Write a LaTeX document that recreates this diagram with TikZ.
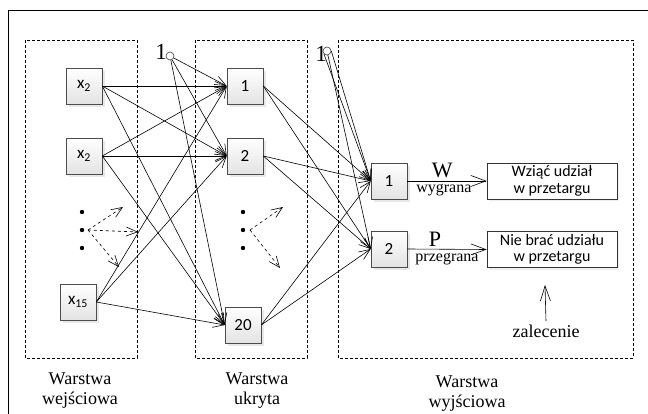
\documentclass[tikz,border=0pt]{standalone}
\usepackage{fontspec}
\setmainfont{Liberation Serif}
\setsansfont{Carlito}
\usetikzlibrary{arrows.meta,shadows}

\tikzset{
  neuron/.style={draw=gray!60!black, top color=white, bottom color=gray!22,
    minimum width=36pt, minimum height=36pt, inner sep=0pt,
    font=\sffamily\fontsize{17}{17}\selectfont,
    drop shadow={shadow xshift=3pt, shadow yshift=-3pt, fill=gray!35}},
  decision/.style={draw=gray!40!black, fill=white, minimum width=130pt,
    minimum height=36pt, inner sep=0pt, align=center,
    font=\sffamily\fontsize{16}{16.5}\selectfont,
    drop shadow={shadow xshift=2pt, shadow yshift=-2pt, fill=gray!25}},
  bias/.style={circle, draw=gray!50!black, fill=white, minimum size=8pt, inner sep=0pt},
  layer/.style={draw, dash pattern=on 3pt off 2pt, line width=0.7pt},
  layername/.style={anchor=north, align=center, inner sep=0pt,
    font=\fontsize{18}{20}\selectfont},
}

\begin{document}
\begin{tikzpicture}[x=1pt, y=-1pt, line width=0.6pt,
    >={Straight Barb[length=11pt,width=9pt]}]
  \useasboundingbox (0,0) rectangle (648,414);
  \draw[line width=0.8pt] (8,414) -- (8,10) -- (648,10);

  \draw[layer] (25,40) rectangle (137,358);
  \draw[layer] (195,40) rectangle (307,358);
  \draw[layer] (338,40) rectangle (633,358);

  \node[neuron] (X1) at (84,86) {x\textsubscript{2}};
  \node[neuron] (X2) at (84,156) {x\textsubscript{2}};
  \node[neuron] (X15) at (78,302) {x\textsubscript{15}};

  \node[neuron] (H1) at (245,86) {1};
  \node[neuron] (H2) at (245,156) {2};
  \node[neuron] (H20) at (243,325) {20};

  \node[neuron] (O1) at (389,181) {1};
  \node[neuron] (O2) at (389,249) {2};

  \node[decision] (D1) at (552,181) {Wziąć udział\\w przetargu};
  \node[decision] (D2) at (552,249.5) {Nie brać udziału\\w przetargu};

  \node[font=\fontsize{23}{23}\selectfont, inner sep=0pt] (B1t) at (161,52) {1};
  \node[bias] (B1) at (170,56) {};
  \node[font=\fontsize{23}{23}\selectfont, inner sep=0pt] (B2t) at (321,54) {1};
  \node[bias] (B2) at (327,51) {};

  \fill (82,212) circle (2.2pt) (82,230) circle (2.2pt) (82,248) circle (2.2pt);
  \fill (243,212) circle (2.2pt) (243,230) circle (2.2pt) (243,248) circle (2.2pt);

  \coordinate (XD) at (88,230);
  \coordinate (XD1) at (123,207);
  \coordinate (XD2) at (138,232);
  \coordinate (XD3) at (119,267);
  \coordinate (HD) at (250,230);
  \coordinate (HD1) at (283,207);
  \coordinate (HD2) at (280,268);
  \draw[->, dashed] (XD) -- (XD1);
  \draw[->, dashed] (XD) -- (XD2);
  \draw[->, dashed] (XD) -- (XD3);
  \draw[->, dashed] (HD) -- (HD1);
  \draw[->, dashed] (HD) -- (HD2);

  \draw[->] (X1.east) -- (H1.west);
  \draw[->] (X1.east) -- (H2.west);
  \draw[->] (X1.east) -- (H20.west);
  \draw[->] (X2.east) -- (H1.west);
  \draw[->] (X2.east) -- (H2.west);
  \draw[->] (X2.east) -- (H20.west);
  \draw[->] (X15.east) -- (H1.west);
  \draw[->] (X15.east) -- (H2.west);
  \draw[->] (X15.east) -- (H20.west);
  \draw[->] (B1) -- (H1.west);
  \draw[->] (B1) -- (H2.west);
  \draw[->] (B1) -- (H20.west);

  \draw[->] (H1.east) -- (O1.west);
  \draw[->] (H1.east) -- (O2.west);
  \draw[->] (H2.east) -- (O1.west);
  \draw[->] (H2.east) -- (O2.west);
  \draw[->] (H20.east) -- (O1.west);
  \draw[->] (H20.east) -- (O2.west);
  \draw[->] (B2.south west) -- (O1.west);
  \draw[->] (B2.east) -- (O1.west);
  \draw[->] (B2) -- (O2.west);

  \draw[-{Straight Barb[length=15pt,width=11pt]}] (O1.east) -- (D1.west)
    node[pos=0.44, above, font=\fontsize{22}{22}\selectfont] {W}
    node[pos=0.46, below, font=\fontsize{16}{16}\selectfont] {wygrana};
  \draw[-{Straight Barb[length=15pt,width=11pt]}] (O2.east) -- (D2.west)
    node[pos=0.35, above, inner sep=2.5pt, font=\fontsize{22}{22}\selectfont] {P}
    node[pos=0.5, below, inner sep=4pt, font=\fontsize{16}{16}\selectfont] {przegrana};

  \node[font=\fontsize{18}{20}\selectfont] (Z) at (546,331) {zalecenie};
  \coordinate (Zt) at (545,285);
  \draw[-{Straight Barb[length=15pt,width=10pt]}] (Z.north) -- (Zt);

  \node[layername] (L1) at (80,372) {Warstwa\\wejściowa};
  \node[layername] (L2) at (257,372) {Warstwa\\ukryta};
  \node[layername] (L3) at (467,375) {Warstwa\\wyjściowa};
\end{tikzpicture}
\end{document}
